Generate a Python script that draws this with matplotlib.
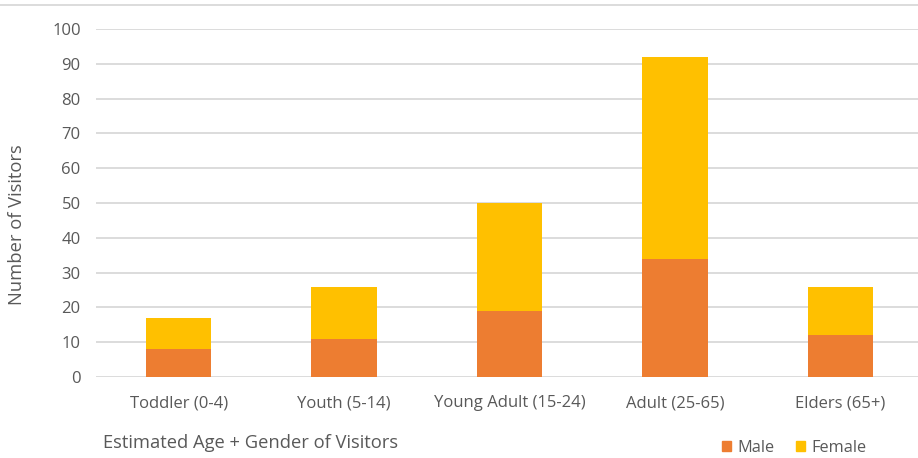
import matplotlib
matplotlib.use("Agg")
import matplotlib.pyplot as plt
from matplotlib.lines import Line2D
from matplotlib.patches import Patch
import numpy as np

categories = ["Toddler (0-4)", "Youth (5-14)", "Young Adult (15-24)", "Adult (25-65)", "Elders (65+)"]
male = [8, 11, 19, 34, 12]
female = [9, 15, 31, 58, 14]
yticks = [0, 10, 20, 30, 40, 50, 60, 70, 80, 90, 100]

plt.rcParams['font.family'] = ['Open Sans', 'DejaVu Sans']
TXT = '#595959'
C_MALE = '#ED7D31'
C_FEMALE = '#FFC000'

W, H = 918, 458
fig = plt.figure(figsize=(W/100, H/100), dpi=100)
ax = fig.add_axes([96/W, (H-377)/H, (923-96)/W, (377-29)/H])

x = np.arange(len(categories))
bw = 0.395
ax.bar(x, male, bw, color=C_MALE, label='Male', zorder=3)
ax.bar(x, female, bw, bottom=male, color=C_FEMALE, label='Female', zorder=3)

ax.set_xlim(-0.5, len(categories) - 0.5)
ax.set_ylim(0, 100)
ax.set_yticks(yticks)
ax.set_xticks(x)
ax.set_xticklabels(categories)
ax.tick_params(axis='both', length=0, colors=TXT, labelsize=12)
ax.tick_params(axis='y', pad=11)
ax.tick_params(axis='x', pad=13)
ax.grid(axis='y', color='#D9D9D9', linewidth=1.3, zorder=0)
for s in ax.spines.values():
    s.set_visible(False)

fig.text(17/W, 1 - 225/H, 'Number of Visitors', rotation=90, ha='center', va='center',
         color=TXT, fontsize=13.2)
fig.text(103/W, 1 - 443/H, 'Estimated Age + Gender of Visitors', ha='left', va='center',
         color=TXT, fontsize=13.2)

fig.add_artist(Line2D([0, 1], [1 - 5.3/H, 1 - 5.3/H], color='#D9D9D9', linewidth=1.3,
                      transform=fig.transFigure))

handles = [Patch(color=C_MALE), Patch(color=C_FEMALE)]
leg = fig.legend(handles, ['Male', 'Female'], loc='center', bbox_to_anchor=(794/W, 1 - 448/H),
                 ncol=2, frameon=False, fontsize=11.8, handlelength=0.6, handleheight=0.6,
                 handletextpad=0.35, columnspacing=1.3, borderpad=0)
for t in leg.get_texts():
    t.set_color(TXT)

fig.savefig('out.png', dpi=100)
